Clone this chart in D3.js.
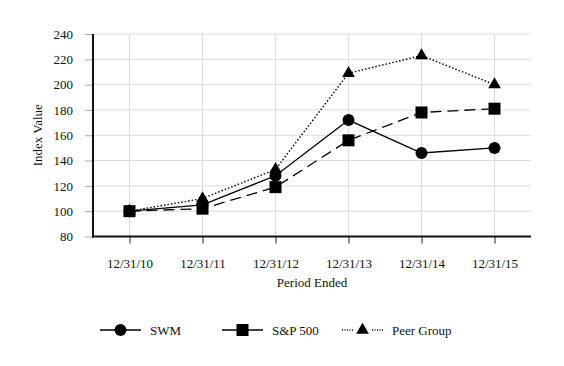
<!DOCTYPE html>
<html>
<head>
<meta charset="utf-8">
<script src="https://cdn.jsdelivr.net/npm/d3@7"></script>
<style>
  body { margin: 0; background: #fff; }
  svg text { font-family: "Liberation Serif", "Times New Roman", serif; fill: #111; }
</style>
</head>
<body>
<svg id="chart" width="564" height="366"></svg>
<script>
// Cumulative total return index, base 100
const periods = ["12/31/10", "12/31/11", "12/31/12", "12/31/13", "12/31/14", "12/31/15"];
const swmValues = [100, 105, 128, 172, 146, 150];
const spValues = [100, 102, 119, 156, 178, 181];
const peerValues = [100, 110, 133, 209, 223, 200];
const yTicks = [80, 100, 120, 140, 160, 180, 200, 220, 240];

const series = [
  { name: "SWM", values: swmValues, dash: null, marker: "circle" },
  { name: "S&P 500", values: spValues, dash: "11,6", marker: "square" },
  { name: "Peer Group", values: peerValues, dash: "1.5,2", marker: "triangle" },
];

const svg = d3.select("#chart");
const plotLeft = 93, plotRight = 531, plotTop = 34, plotBottom = 236.5;

const x = d3.scalePoint().domain(periods).range([plotLeft, plotRight]).padding(0.5);
const y = d3.scaleLinear().domain([80, 240]).range([plotBottom, plotTop]);

// grid
const grid = svg.append("g").attr("stroke", "#dcdcdc").attr("stroke-width", 1);
grid.selectAll("line.h")
  .data(yTicks.slice(1))
  .join("line")
  .attr("class", "h")
  .attr("x1", plotLeft).attr("x2", plotRight)
  .attr("y1", (d) => y(d)).attr("y2", (d) => y(d));
grid.selectAll("line.v")
  .data(periods)
  .join("line")
  .attr("class", "v")
  .attr("x1", (d) => x(d)).attr("x2", (d) => x(d))
  .attr("y1", plotTop).attr("y2", plotBottom);

// axes
const yAxis = svg.append("g")
  .attr("transform", `translate(${plotLeft},0)`)
  .call(d3.axisLeft(y).tickValues(yTicks).tickSize(8).tickPadding(12));
const xAxis = svg.append("g")
  .attr("transform", `translate(0,${plotBottom})`)
  .call(d3.axisBottom(x).tickSize(7).tickPadding(15));

[yAxis, xAxis].forEach((ax) => {
  ax.select(".domain").remove();
  ax.selectAll("text")
    .attr("font-size", 13)
    .attr("fill", "#111");
});
yAxis.selectAll("line").attr("stroke", "#a8a8a8");
xAxis.selectAll("line").attr("stroke", "#222");

svg.append("line")
  .attr("x1", plotLeft).attr("x2", plotLeft).attr("y1", plotTop).attr("y2", plotBottom + 1)
  .attr("stroke", "#111").attr("stroke-width", 2);
svg.append("line")
  .attr("x1", plotLeft - 1).attr("x2", plotRight).attr("y1", plotBottom).attr("y2", plotBottom)
  .attr("stroke", "#111").attr("stroke-width", 2);

svg.append("text")
  .attr("transform", `translate(42,${(plotTop + plotBottom) / 2}) rotate(-90)`)
  .attr("text-anchor", "middle")
  .attr("font-size", 13)
  .text("Index Value");

svg.append("text")
  .attr("x", (plotLeft + plotRight) / 2).attr("y", 287)
  .attr("text-anchor", "middle")
  .attr("font-size", 13)
  .text("Period Ended");

function drawMarker(g, type, cx, cy) {
  if (type === "circle") {
    g.append("circle").attr("cx", cx).attr("cy", cy).attr("r", 6).attr("fill", "#000");
  } else if (type === "square") {
    g.append("rect").attr("x", cx - 6).attr("y", cy - 6).attr("width", 12).attr("height", 12).attr("fill", "#000");
  } else {
    const sym = d3.symbol().type(d3.symbolTriangle).size(70);
    g.append("path").attr("d", sym()).attr("transform", `translate(${cx},${cy})`).attr("fill", "#000");
  }
}

const line = d3.line()
  .x((d, i) => x(periods[i]))
  .y((d) => y(d));

const plot = svg.append("g");
series.slice().reverse().forEach((s) => {
  plot.append("path")
    .attr("d", line(s.values))
    .attr("fill", "none")
    .attr("stroke", "#000")
    .attr("stroke-width", s.marker === "triangle" ? 1.4 : 1.3)
    .attr("stroke-dasharray", s.dash);
});
series.slice().reverse().forEach((s) => {
  s.values.forEach((v, i) => drawMarker(plot, s.marker, x(periods[i]), y(v)));
});

// legend
const legendX = [100, 222, 342];
const legendY = 330;
series.forEach((s, i) => {
  const g = svg.append("g");
  const x0 = legendX[i];
  g.append("line")
    .attr("x1", x0).attr("x2", x0 + 41)
    .attr("y1", legendY).attr("y2", legendY)
    .attr("stroke", "#000").attr("stroke-width", 1.3)
    .attr("stroke-dasharray", s.marker === "triangle" ? "1,1.5" : null);
  if (s.marker === "triangle") {
    g.append("rect").attr("x", x0 + 12).attr("y", legendY - 3).attr("width", 17).attr("height", 6).attr("fill", "#fff");
  }
  drawMarker(g, s.marker, x0 + 20.5, legendY);
  g.append("text")
    .attr("x", x0 + 50).attr("y", legendY + 4.5)
    .attr("font-size", 13)
    .text(s.name);
});
</script>
</body>
</html>
